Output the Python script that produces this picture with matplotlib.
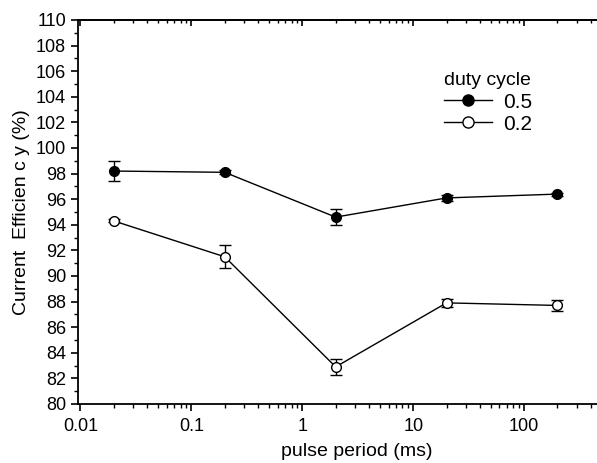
import numpy as np
import matplotlib
matplotlib.use('Agg')
import matplotlib.pyplot as plt
from matplotlib.lines import Line2D
from matplotlib.ticker import MultipleLocator, LogLocator, FixedFormatter, FixedLocator

plt.rcParams['font.family'] = ['Liberation Sans', 'DejaVu Sans']

# DATA
# -----------------------------------------------------------------------------------------------
period = [0.02, 0.2, 2, 20, 200]
eff_05 = [98.2, 98.1, 94.6, 96.1, 96.4]
err_05 = [0.75, 0.15, 0.6, 0.25, 0.12]
eff_02 = [94.3, 91.5, 82.9, 87.9, 87.7]
err_02 = [0.12, 0.9, 0.6, 0.3, 0.45]
labels = ['0.5', '0.2']
xticks = [0.01, 0.1, 1, 10, 100]
xticklabels = ['0.01', '0.1', '1', '10', '100']

# PLOT
# -----------------------------------------------------------------------------------------------
fig = plt.figure(figsize=(5.97, 4.63), dpi=100)
ax = fig.add_axes([78 / 597, 59 / 463, 557 / 597, 384 / 463])

ax.errorbar(period, eff_05, yerr=err_05, color='black', marker='o', markersize=7,
            markerfacecolor='black', linewidth=1, capsize=4, elinewidth=1, capthick=1)
ax.errorbar(period, eff_02, yerr=err_02, color='black', marker='o', markersize=7,
            markerfacecolor='white', linewidth=1, capsize=4, elinewidth=1, capthick=1)

ax.set_xscale('log')
ax.set_xlim(0.0095, 1000)
ax.set_ylim(80, 110)
ax.xaxis.set_major_locator(FixedLocator(xticks))
ax.xaxis.set_major_formatter(FixedFormatter(xticklabels))
ax.xaxis.set_minor_locator(LogLocator(base=10, subs=np.arange(2, 10)))
ax.yaxis.set_major_locator(MultipleLocator(2))
ax.yaxis.set_minor_locator(MultipleLocator(1))

ax.tick_params(axis='both', which='major', direction='out', length=5, width=1.2, labelsize=13)
ax.tick_params(axis='both', which='minor', direction='out', length=3, width=1)
ax.tick_params(axis='x', which='major', pad=5)

# inward ticks along the top spine
top = ax.secondary_xaxis('top')
top.set_xticks(xticks)
top.set_xticklabels([])
top.xaxis.set_minor_locator(LogLocator(base=10, subs=np.arange(2, 10)))
top.tick_params(which='major', direction='in', length=4, width=1.2)
top.tick_params(which='minor', direction='in', length=2.5, width=1)
top.spines['top'].set_linewidth(1.3)
for sp in ax.spines.values():
    sp.set_linewidth(1.3)

ax.set_xlabel('pulse period (ms)', fontsize=14, labelpad=6)
ax.set_ylabel('Current  Efficien c y (%)', fontsize=14, labelpad=4)

handles = [Line2D([], [], color='black', linewidth=1, marker='o', markersize=8,
                  markerfacecolor='black'),
           Line2D([], [], color='black', linewidth=1, marker='o', markersize=8,
                  markerfacecolor='white')]
leg = ax.legend(handles, labels, title='duty cycle', loc='upper left',
                bbox_to_anchor=(0.643, 0.885), frameon=False, fontsize=15,
                title_fontsize=14, handlelength=2.3, handletextpad=0.5,
                labelspacing=0.15, borderaxespad=0)
leg._legend_box.align = 'left'

fig.savefig('out.png', dpi=100)
